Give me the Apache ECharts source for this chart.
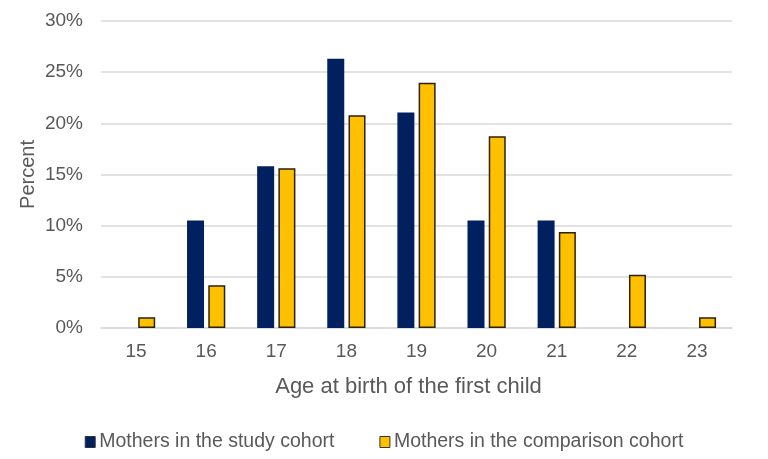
<!DOCTYPE html>
<html><head><meta charset="utf-8">
<script src="https://cdn.jsdelivr.net/npm/echarts@6/dist/echarts.min.js"></script>
<style>html,body{margin:0;padding:0;background:#fff}#c{width:768px;height:459px}</style>
</head><body><div id="c"></div>
<script>
var ages = ['15','16','17','18','19','20','21','22','23'];
var studyCohort = [0, 10.5, 15.8, 26.3, 21.05, 10.5, 10.5, 0, 0];
var comparisonCohort = [1.04, 4.17, 15.6, 20.8, 23.96, 18.75, 9.38, 5.2, 1.04];
var seriesNames = ['Mothers in the study cohort', 'Mothers in the comparison cohort'];

var chart = echarts.init(document.getElementById('c'));
var txt = '#595959';
chart.setOption({
  animation: false,
  textStyle: {fontFamily: 'Liberation Sans, Arial, sans-serif'},
  grid: {left: 101, right: 36, top: 21, bottom: 131, outerBoundsMode: 'none', containLabel: false},
  legend: {
    top: 427, left: 'center', itemWidth: 10, itemHeight: 11, itemGap: 45, icon: 'rect',
    textStyle: {color: txt, fontSize: 19.5, padding: [0, 0, 0, -1]},
    data: [
      {name: seriesNames[0], itemStyle: {borderColor: '#333', borderWidth: 1}},
      {name: seriesNames[1], itemStyle: {borderColor: '#333', borderWidth: 1}}
    ]
  },
  xAxis: {
    type: 'category', data: ages,
    name: 'Age at birth of the first child', nameLocation: 'middle', nameGap: 48,
    nameTextStyle: {color: txt, fontSize: 22, padding: [0, 16, 0, 0]},
    axisLine: {show: true, lineStyle: {color: '#d9d9d9', width: 1.5}},
    axisTick: {show: false},
    axisLabel: {color: txt, fontSize: 19, margin: 14}
  },
  yAxis: {
    type: 'value', min: 0, max: 30, interval: 5,
    name: 'Percent', nameLocation: 'middle', nameGap: 63, nameMoveOverlap: false,
    nameTextStyle: {color: txt, fontSize: 20},
    axisLabel: {color: txt, fontSize: 19, formatter: '{value}%', margin: 18},
    splitLine: {lineStyle: {color: '#d9d9d9', width: 1.5}},
    axisLine: {show: false}, axisTick: {show: false}
  },
  series: [
    {name: seriesNames[0], type: 'bar', data: studyCohort, barWidth: 17, barGap: '25%',
     itemStyle: {color: '#002060', borderWidth: 0}},
    {name: seriesNames[1], type: 'bar', data: comparisonCohort, barWidth: 17,
     itemStyle: {color: '#FFC000', borderColor: '#2b2200', borderWidth: 1.5}}
  ]
});
</script></body></html>
